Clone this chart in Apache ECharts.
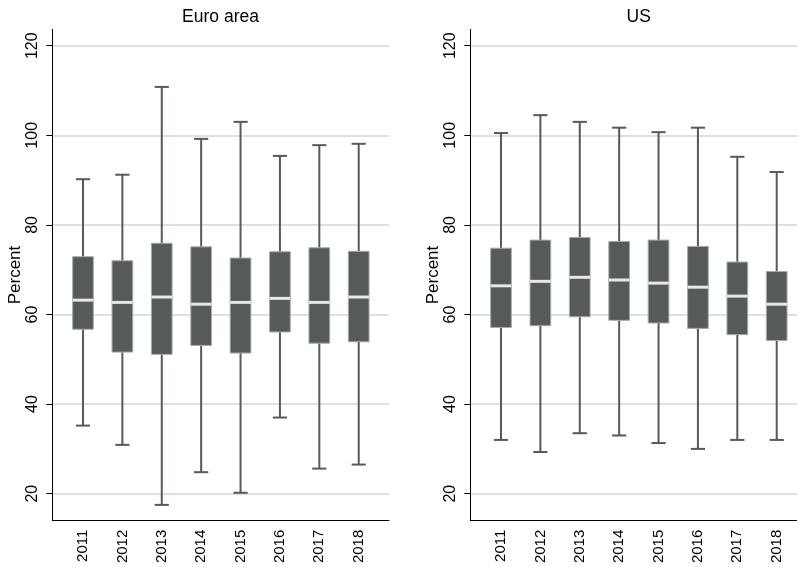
<!DOCTYPE html>
<html>
<head>
<meta charset="utf-8">
<script src="https://cdn.jsdelivr.net/npm/echarts@6/dist/echarts.min.js"></script>
<style>html,body{margin:0;padding:0;background:#fff;}#c{width:797px;height:567px;}</style>
</head>
<body>
<div id="c"></div>
<script>
const years = ['2011','2012','2013','2014','2015','2016','2017','2018'];
const yTicks = [20, 40, 60, 80, 100, 120];

const euroMin = [35.2, 30.9, 17.5, 24.8, 20.2, 37.0, 25.6, 26.5];
const euroQ1  = [56.7, 51.6, 51.1, 53.1, 51.4, 56.1, 53.6, 53.9];
const euroMed = [63.2, 62.7, 63.9, 62.3, 62.7, 63.6, 62.7, 63.9];
const euroQ3  = [72.9, 72.0, 75.9, 75.1, 72.6, 74.0, 74.9, 74.1];
const euroMax = [90.2, 91.2, 110.8, 99.2, 103.0, 95.4, 97.8, 98.1];

const usMin = [32.0, 29.3, 33.5, 33.0, 31.3, 30.0, 32.0, 32.0];
const usQ1  = [57.1, 57.5, 59.5, 58.7, 58.1, 56.9, 55.5, 54.2];
const usMed = [66.4, 67.4, 68.3, 67.7, 67.0, 66.1, 64.1, 62.3];
const usQ3  = [74.8, 76.6, 77.2, 76.3, 76.6, 75.2, 71.7, 69.6];
const usMax = [100.5, 104.5, 103.0, 101.7, 100.7, 101.7, 95.2, 91.8];

const yMin = 13.97, yMax = 123.66;
const FONT = 'Liberation Sans, Arial, Helvetica, sans-serif';
const BOX = '#565a5b';

function rows(lo, q1, med, q3, hi) {
  return years.map((y, i) => [i, lo[i], q1[i], med[i], q3[i], hi[i]]);
}

function renderBox(params, api) {
  const x = api.value(0);
  const lo = api.value(1), q1 = api.value(2), med = api.value(3), q3 = api.value(4), hi = api.value(5);
  const band = api.size([1, 0])[0];
  const bw = band * 0.525, cw = band * 0.36;
  const pLo = api.coord([x, lo]), pQ1 = api.coord([x, q1]), pMed = api.coord([x, med]);
  const pQ3 = api.coord([x, q3]), pHi = api.coord([x, hi]);
  const cx = pMed[0];
  const ls = { stroke: BOX, lineWidth: 2 };
  return {
    type: 'group',
    children: [
      { type: 'line', shape: { x1: cx, y1: pLo[1], x2: cx, y2: pQ1[1] }, style: ls },
      { type: 'line', shape: { x1: cx, y1: pQ3[1], x2: cx, y2: pHi[1] }, style: ls },
      { type: 'line', shape: { x1: cx - cw / 2, y1: pLo[1], x2: cx + cw / 2, y2: pLo[1] }, style: ls },
      { type: 'line', shape: { x1: cx - cw / 2, y1: pHi[1], x2: cx + cw / 2, y2: pHi[1] }, style: ls },
      { type: 'rect', shape: { x: cx - bw / 2, y: pQ3[1], width: bw, height: pQ1[1] - pQ3[1] },
        style: { fill: BOX, stroke: '#a8a8a8', lineWidth: 1 } },
      { type: 'line', shape: { x1: cx - bw / 2, y1: pMed[1], x2: cx + bw / 2, y2: pMed[1] },
        style: { stroke: '#e8e8e8', lineWidth: 3 } }
    ]
  };
}

function outerY(gi) {
  return {
    type: 'value', gridIndex: gi, min: yMin, max: yMax,
    name: 'Percent', nameLocation: 'middle', nameGap: 26,
    nameTextStyle: { fontFamily: FONT, fontSize: 17, color: '#000' },
    axisLine: { show: true, lineStyle: { color: '#000', width: 1 } },
    axisTick: { show: true, length: 6, customValues: yTicks, lineStyle: { color: '#000', width: 1 } },
    axisLabel: { customValues: yTicks, rotate: 90, margin: 12, fontFamily: FONT, fontSize: 16, color: '#000' },
    splitLine: { show: true, lineStyle: { color: '#e0e0e0', width: 2 } }
  };
}
function innerY(gi) {
  return { type: 'value', gridIndex: gi, min: yMin, max: yMax, show: false,
    axisLine: { show: false }, axisTick: { show: false }, axisLabel: { show: false }, splitLine: { show: false } };
}
function outerX(gi) {
  return { type: 'value', gridIndex: gi, min: 0, max: 1,
    axisLine: { show: true, onZero: false, lineStyle: { color: '#000', width: 1 } },
    axisTick: { show: false }, axisLabel: { show: false }, splitLine: { show: false } };
}
function innerX(gi) {
  return { type: 'category', gridIndex: gi, data: years, boundaryGap: true,
    axisLine: { show: false }, axisTick: { show: false },
    axisLabel: { rotate: 90, margin: 9, fontFamily: FONT, fontSize: 15, color: '#000', interval: 0 },
    splitLine: { show: false } };
}

const chart = echarts.init(document.getElementById('c'), null, { renderer: 'canvas' });
chart.setOption({
  animation: false,
  backgroundColor: '#fff',
  grid: [
    { left: 52.3, right: 408, top: 29.3, bottom: 46.3 },
    { left: 63.3, right: 418.6, top: 29.3, bottom: 46.3 },
    { left: 470.3, right: -10.4, top: 29.3, bottom: 46.3 },
    { left: 481.3, right: 0.6, top: 29.3, bottom: 46.3 }
  ],
  xAxis: [outerX(0), innerX(1), outerX(2), innerX(3)],
  yAxis: [outerY(0), innerY(1), outerY(2), innerY(3)],
  graphic: [
    { type: 'text', x: 220.5, y: 17, style: { text: 'Euro area', fontFamily: FONT, fontSize: 17.5, fill: '#000', textAlign: 'center', textVerticalAlign: 'middle' } },
    { type: 'text', x: 638.7, y: 17, style: { text: 'US', fontFamily: FONT, fontSize: 17.5, fill: '#000', textAlign: 'center', textVerticalAlign: 'middle' } }
  ],
  series: [
    { type: 'custom', name: 'Euro area', xAxisIndex: 1, yAxisIndex: 1, renderItem: renderBox,
      encode: { x: 0, y: [1, 2, 3, 4, 5] }, data: rows(euroMin, euroQ1, euroMed, euroQ3, euroMax), clip: false },
    { type: 'custom', name: 'US', xAxisIndex: 3, yAxisIndex: 3, renderItem: renderBox,
      encode: { x: 0, y: [1, 2, 3, 4, 5] }, data: rows(usMin, usQ1, usMed, usQ3, usMax), clip: false }
  ]
});
</script>
</body>
</html>
